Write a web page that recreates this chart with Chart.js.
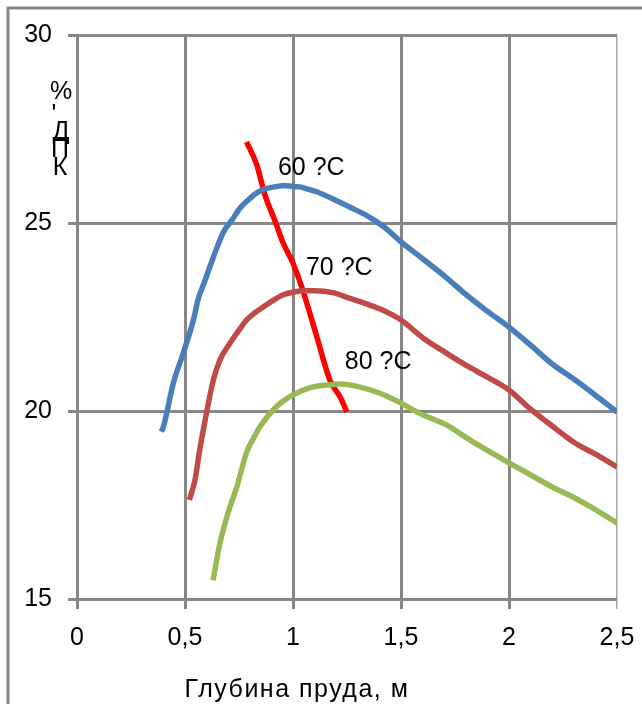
<!DOCTYPE html>
<html>
<head>
<meta charset="utf-8">
<script src="https://cdn.jsdelivr.net/npm/chart.js@4/dist/chart.umd.min.js"></script>
<style>
  html, body { margin: 0; padding: 0; background: #fff; }
  #wrap { width: 642px; height: 704px; position: relative; }
</style>
</head>
<body>
<div id="wrap"><canvas id="chart" width="642" height="704"></canvas></div>
<script>
// КПД vs глубина пруда, три температуры + линия максимумов
const FONT = '"Liberation Sans", Arial, sans-serif';
const GRID = "#878787";

const xTickLabels = ["0", "0,5", "1", "1,5", "2", "2,5"];
const yTickLabels = ["15", "20", "25", "30"];

const blueX = [0.39, 0.40, 0.446, 0.492, 0.539, 0.562, 0.585, 0.616, 0.677, 0.72, 0.755, 0.80, 0.832, 0.88, 0.924, 0.96, 1.0, 1.03, 1.07, 1.11, 1.18, 1.26, 1.34, 1.42, 1.5, 1.6, 1.71, 1.8, 1.9, 2.0, 2.1, 2.2, 2.3, 2.4, 2.5];
const blueY = [19.45, 19.58, 20.74, 21.54, 22.42, 23.0, 23.35, 23.85, 24.75, 25.1, 25.4, 25.65, 25.8, 25.92, 25.97, 26.0, 25.97, 25.96, 25.9, 25.83, 25.65, 25.43, 25.2, 24.9, 24.5, 24.05, 23.55, 23.1, 22.65, 22.23, 21.75, 21.25, 20.85, 20.42, 19.97];

const redX = [0.52, 0.546, 0.569, 0.585, 0.608, 0.631, 0.662, 0.708, 0.75, 0.785, 0.825, 0.863, 0.91, 0.955, 1.0, 1.048, 1.1, 1.19, 1.26, 1.34, 1.4, 1.5, 1.6, 1.71, 1.8, 1.9, 2.0, 2.1, 2.2, 2.3, 2.4, 2.5];
const redY = [17.63, 18.16, 19.0, 19.5, 20.2, 20.82, 21.36, 21.8, 22.15, 22.42, 22.62, 22.77, 22.95, 23.09, 23.16, 23.2, 23.2, 23.14, 23.0, 22.85, 22.72, 22.42, 21.95, 21.54, 21.22, 20.9, 20.56, 20.05, 19.6, 19.17, 18.85, 18.51];

const greenX = [0.63, 0.662, 0.70, 0.74, 0.785, 0.82, 0.847, 0.924, 1.0, 1.08, 1.17, 1.22, 1.3, 1.4, 1.5, 1.556, 1.6, 1.71, 1.8, 1.9, 2.0, 2.1, 2.2, 2.3, 2.4, 2.5];
const greenY = [15.5, 16.49, 17.3, 17.98, 18.9, 19.3, 19.58, 20.12, 20.43, 20.62, 20.7, 20.72, 20.65, 20.48, 20.21, 20.03, 19.9, 19.63, 19.3, 18.95, 18.62, 18.3, 17.98, 17.7, 17.38, 17.02];

const peakX = [0.785, 0.832, 0.870, 0.917, 0.955, 1.0, 1.04, 1.11, 1.171, 1.22, 1.249];
const peakY = [27.16, 26.55, 25.75, 25.05, 24.46, 23.93, 23.31, 21.98, 20.82, 20.35, 19.98];

const curveLabels = ["60 ?C", "70 ?C", "80 ?C"];
const curveLabelX = [0.93, 1.06, 1.24];
const curveLabelY = [26.46, 23.8, 21.3];

const xTitle = "Глубина пруда, м";
const yTitleChars = ["%", "'", "Д", "П", "К"];

function pts(xs, ys) {
  return xs.map((x, i) => ({ x, y: ys[i] }));
}

function line(data, color) {
  return {
    data,
    borderColor: color,
    borderWidth: 5.5,
    pointRadius: 0,
    showLine: true,
    cubicInterpolationMode: "monotone",
    fill: false,
  };
}

const decor = {
  id: "decor",
  beforeDraw(chart) {
    const { ctx } = chart;
    ctx.save();
    // outer frame (top and left edges)
    ctx.strokeStyle = GRID;
    ctx.lineWidth = 3;
    ctx.beginPath();
    ctx.moveTo(642, 8);
    ctx.lineTo(8, 8);
    ctx.lineTo(8, 704);
    ctx.stroke();
    ctx.restore();
  },
  afterDraw(chart) {
    const { ctx, scales } = chart;
    ctx.save();
    ctx.fillStyle = "#000";
    ctx.font = "25px " + FONT;
    ctx.textBaseline = "middle";
    ctx.textAlign = "left";
    curveLabels.forEach((t, i) => {
      ctx.fillText(t, scales.x.getPixelForValue(curveLabelX[i]),
                   scales.y.getPixelForValue(curveLabelY[i]));
    });
    // x axis title
    ctx.textAlign = "center";
    ctx.letterSpacing = "1.5px";
    ctx.fillText(xTitle, 297, 690);
    ctx.letterSpacing = "0px";
    // y title, letters stacked the way the original broke it
    ctx.font = "25px " + FONT;
    ctx.textBaseline = "alphabetic";
    const yPos = [99, 122, 139, 157, 175];
    const xPos = [61, 54, 61, 60, 60];
    yTitleChars.forEach((c, i) => ctx.fillText(c, xPos[i], yPos[i]));
    ctx.restore();
  },
};

new Chart(document.getElementById("chart"), {
  type: "scatter",
  data: {
    datasets: [
      line(pts(blueX, blueY), "#4a7ebb"),
      line(pts(redX, redY), "#be4b48"),
      line(pts(greenX, greenY), "#98b954"),
      line(pts(peakX, peakY), "#ff0000"),
    ],
  },
  options: {
    responsive: false,
    animation: false,
    layout: { padding: { left: 0, right: 25, top: 35, bottom: 0 } },
    plugins: {
      legend: { display: false },
      tooltip: { enabled: false },
    },
    scales: {
      x: {
        type: "linear",
        min: 0,
        max: 2.5,
        afterFit(scale) {
          scale.height = 105;
          scale.paddingLeft = 0;
          scale.paddingRight = 0;
        },
        ticks: {
          stepSize: 0.5,
          color: "#000",
          padding: 14,
          maxRotation: 0,
          font: { family: FONT, size: 25 },
          callback: (v, i) => xTickLabels[i],
        },
        grid: {
          color: (c) => (c.index === 5 ? "#a8a8a8" : GRID),
          lineWidth: (c) => (c.index === 5 ? 1.5 : 3),
          tickLength: 10,
        },
        border: { display: false },
      },
      y: {
        type: "linear",
        min: 15,
        max: 30,
        afterFit(scale) {
          scale.width = 77;
          scale.paddingTop = 0;
          scale.paddingBottom = 0;
        },
        ticks: {
          stepSize: 5,
          color: "#000",
          padding: 16,
          font: { family: FONT, size: 25 },
          callback: (v, i) => yTickLabels[i],
        },
        grid: { color: GRID, lineWidth: 3, tickLength: 9 },
        border: { display: false },
      },
    },
  },
  plugins: [decor],
});
</script>
</body>
</html>
